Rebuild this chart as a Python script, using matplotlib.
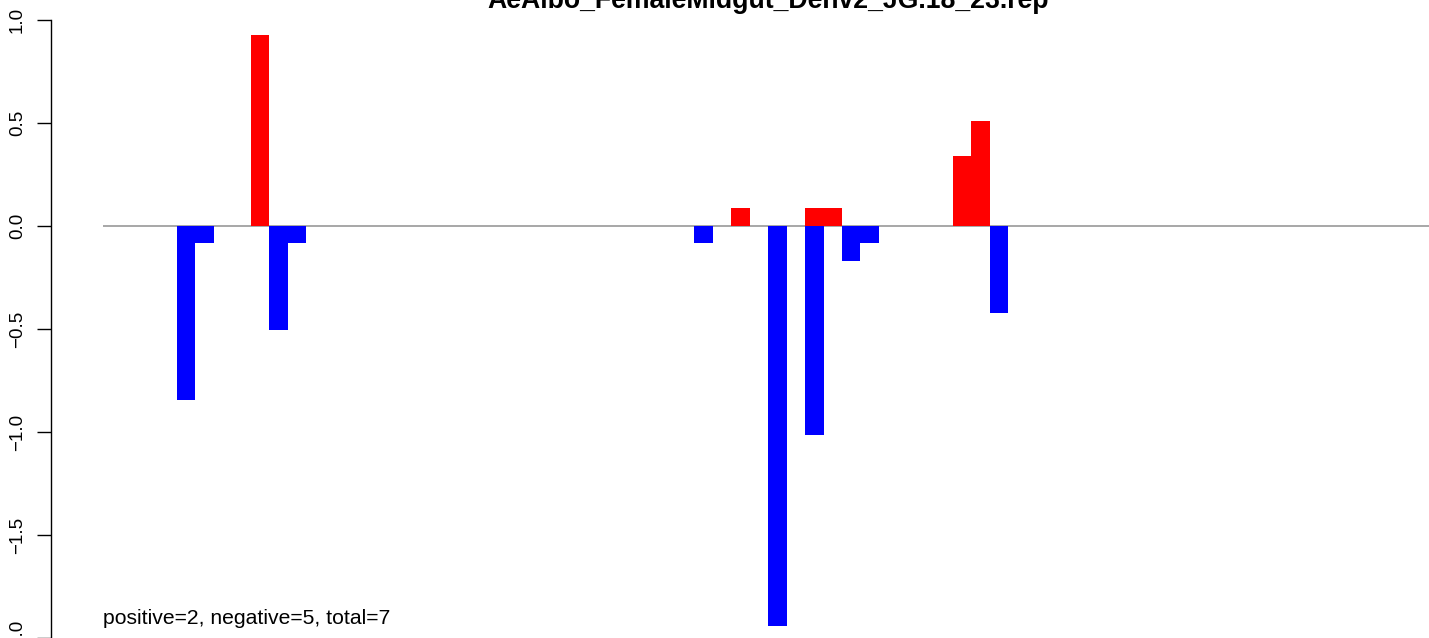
import numpy as np
import matplotlib
matplotlib.use("Agg")
import matplotlib.pyplot as plt

plt.rcParams['font.family'] = ['Liberation Sans', 'DejaVu Sans']

title = "AeAlbo_FemaleMidgut_Denv2_JG.18_23.rep"
summary = "positive=2, negative=5, total=7"

# bar slot index -> value (slots with no entry are empty)
pos_idx = [8, 34, 38, 39, 46, 47]
pos_vals = [0.928, 0.087, 0.087, 0.087, 0.341, 0.510]
neg_idx = [4, 5, 9, 10, 32, 36, 38, 40, 41, 48]
neg_vals = [-0.843, -0.085, -0.506, -0.085, -0.085, -1.94, -1.014, -0.17, -0.085, -0.423]

yticks = [-2.0, -1.5, -1.0, -0.5, 0.0, 0.5, 1.0]

W, H = 1429, 638
fig = plt.figure(figsize=(W / 100, H / 100), dpi=100)

# plot region in pixels (right edge runs past the picture, like the source)
left_px, right_px = 51, 1485
zero_px, per_unit = 228, 208
ax = fig.add_axes([left_px / W, 0.0, (right_px - left_px) / W, 1.0])
ax.set_xlim(-2.81, 74.8)
ax.set_ylim((zero_px - H) / per_unit, zero_px / per_unit)

ax.hlines(0, 0, 74, color='#a0a0a0', linewidth=1.3, zorder=1)
ax.bar(pos_idx, pos_vals, width=1.0, align='edge', color='red', linewidth=0, zorder=2)
ax.bar(neg_idx, neg_vals, width=1.0, align='edge', color='blue', linewidth=0, zorder=2)

for s in ['top', 'right', 'bottom']:
    ax.spines[s].set_visible(False)
ax.spines['left'].set_bounds(-2.0, 1.0)
ax.spines['left'].set_linewidth(1.0)
ax.set_xticks([])
ax.set_yticks(yticks)
ax.set_yticklabels([f"{t:.1f}".replace('-', '\u2212') for t in yticks],
                   rotation=90, va='center', fontsize=13.5)
ax.tick_params(axis='y', length=10, width=1.0, pad=8)

ax.text(0, (zero_px - 630) / per_unit, summary, fontsize=15.2, ha='left', va='baseline')

fig.text(768 / W, 1 - 8 / H, title, fontsize=19.2, fontweight='bold',
         ha='center', va='baseline')

fig.savefig('out.png', dpi=100)
